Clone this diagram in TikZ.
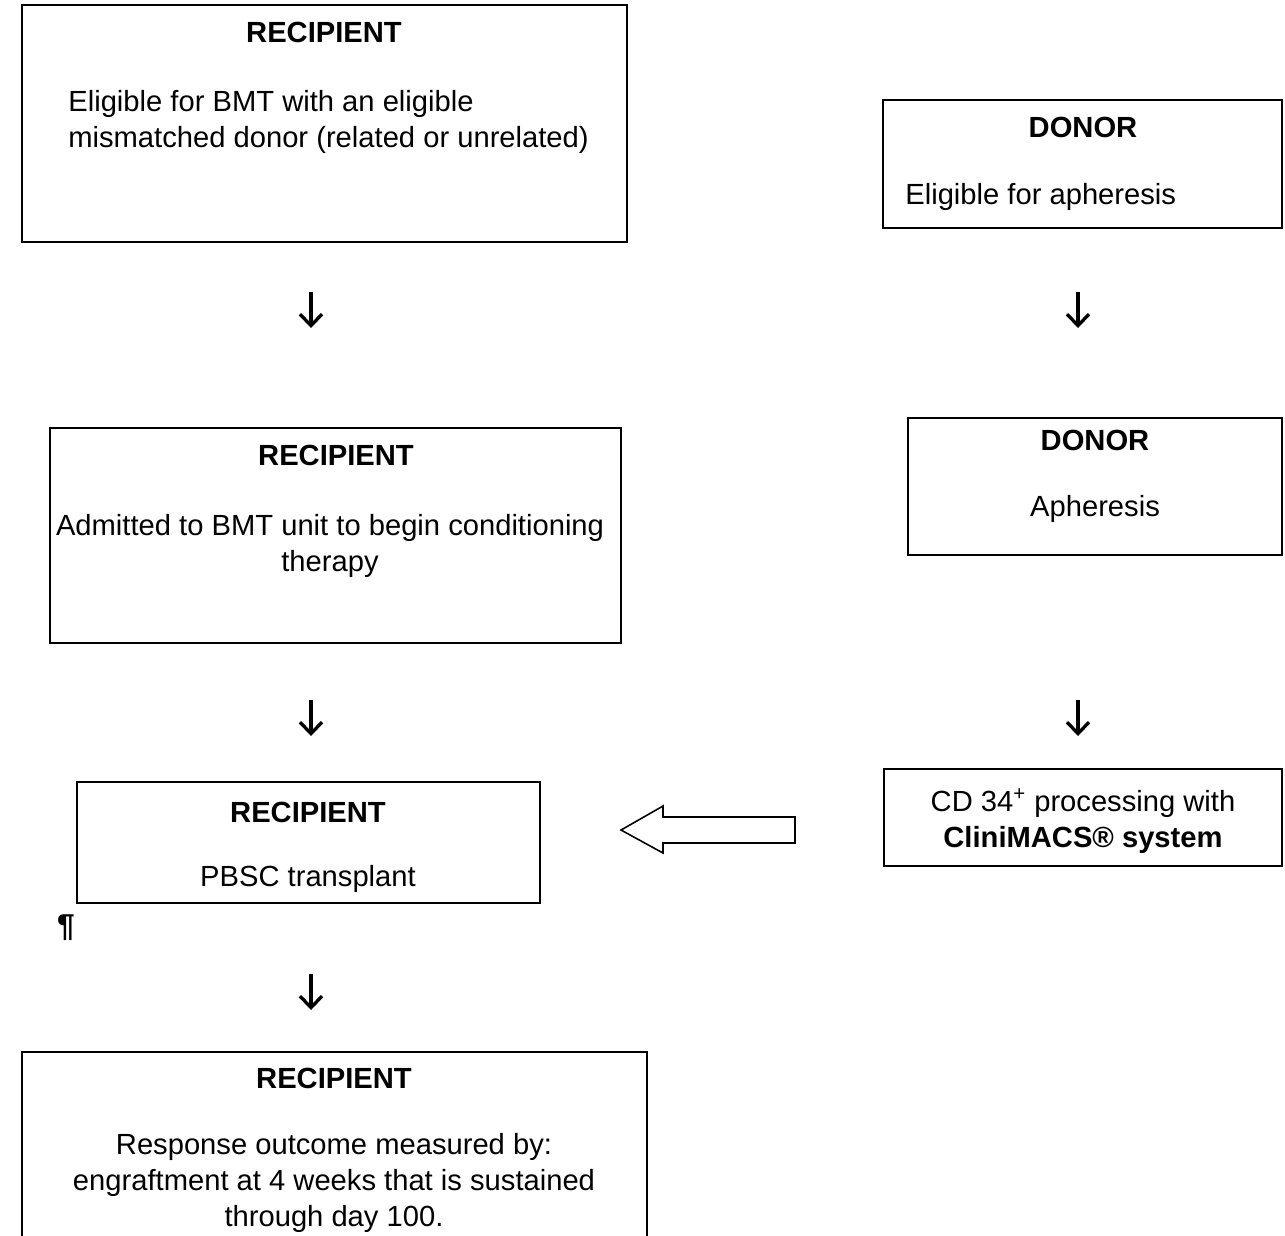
\documentclass[tikz,border=0pt]{standalone}
\usepackage{fontspec}
\setmainfont{Liberation Sans}
\usepackage{tikz}
\usetikzlibrary{positioning,arrows.meta}
\tikzset{
  boxline/.style={line width=1.1pt},
  boxtitle/.style={font=\fontsize{16.6}{20.5}\selectfont\bfseries, anchor=north, inner sep=0pt},
  boxtext/.style={font=\fontsize{16.6}{20.5}\selectfont, inner sep=0pt},
  downarr/.style={-{Straight Barb[length=6.5pt,width=12.5pt]}, line width=1.9pt},
}

\begin{document}
\begin{tikzpicture}[x=0.02cm, y=-0.02cm]
  \useasboundingbox (0,0) rectangle (1285,1235);

  % recipient, first step
  \draw[boxline] (22,5) rectangle (627,242);
  \node[boxtitle] (rec1title) at (324,22) {RECIPIENT};
  \node[boxtext, anchor=north west, align=left] (rec1text) at (68,90)
    {Eligible for BMT with an eligible\\mismatched donor (related or unrelated)};

  % donor, first step
  \draw[boxline] (883,100) rectangle (1282,228);
  \node[boxtitle] (don1title) at (1083,117) {DONOR};
  \node[boxtext, anchor=north west] (don1text) at (905,183) {Eligible for apheresis};

  % down arrows, free standing
  \coordinate (arrAtop) at (311,292);  \coordinate (arrAend) at (311,328);
  \coordinate (arrBtop) at (1078,292); \coordinate (arrBend) at (1078,328);
  \coordinate (arrCtop) at (311,700);  \coordinate (arrCend) at (311,736);
  \coordinate (arrDtop) at (1078,700); \coordinate (arrDend) at (1078,736);
  \coordinate (arrEtop) at (311,974);  \coordinate (arrEend) at (311,1010);
  \foreach \a in {A,B,C,D,E}
    \draw[downarr] (arr\a top) -- (arr\a end);

  % second step
  \draw[boxline] (50,428) rectangle (621,643);
  \node[boxtitle] (rec2title) at (336,445) {RECIPIENT};
  \node[boxtext, anchor=north, align=center] (rec2text) at (330,514)
    {Admitted to BMT unit to begin conditioning\\therapy};
  \draw[boxline] (908,418) rectangle (1282,555);
  \node[boxtitle] (don2title) at (1095,430) {DONOR};
  \node[boxtext, anchor=north] (don2text) at (1095,495) {Apheresis};

  % transplant and processing
  \draw[boxline] (77,782) rectangle (540,903);
  \node[boxtitle] (rec3title) at (308,802) {RECIPIENT};
  \node[boxtext, anchor=north] (rec3text) at (308,865) {PBSC transplant};
  \draw[boxline] (884,769) rectangle (1282,866);
  \node[boxtext, anchor=north, align=center] (proctext) at (1083,788)
    {CD 34\textsuperscript{+} processing with\\\textbf{CliniMACS® system}};

  % hollow arrow
  \draw[line width=0.9pt] (621,830) -- (663,806) -- (663,817) -- (795,817)
    -- (795,843) -- (663,843) -- (663,853) -- cycle;

  \node[boxtext, font=\fontsize{18}{20.5}\selectfont\bfseries] (pilcrow) at (66,928) {¶};

  % outcome, box runs off the page
  \draw[boxline] (22,1240) -- (22,1052) -- (647,1052) -- (647,1240);
  \node[boxtitle] (rec4title) at (334,1068) {RECIPIENT};
  \node[boxtext, anchor=north, align=center] (rec4text) at (334,1133)
    {Response outcome measured by:\\engraftment at 4 weeks that is sustained\\through day 100.};
\end{tikzpicture}
\end{document}
